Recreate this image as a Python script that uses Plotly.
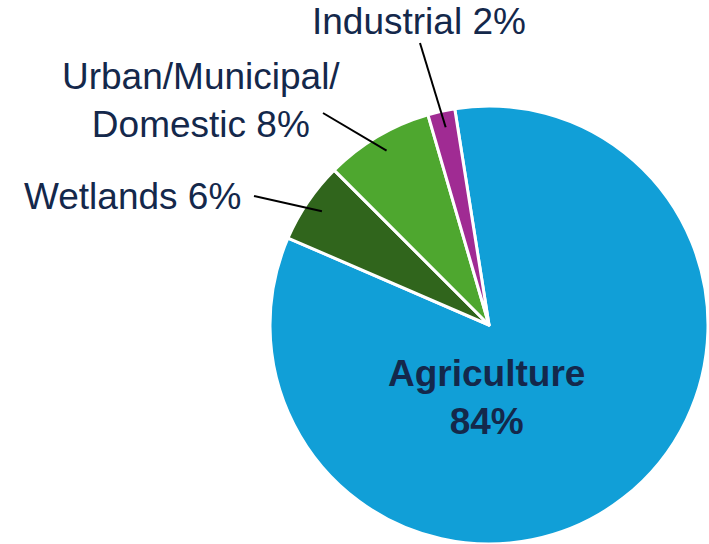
import math
import plotly.graph_objects as go

labels = ["Agriculture", "Wetlands", "Urban/Municipal/<br>Domestic", "Industrial"]
values = [84, 6, 8, 2]
colors = ["#119FD7", "#30651C", "#4EA72F", "#A02B93"]

W, H = 709, 544
CX, CY, R = 490, 325.5, 218.5
ROT = -9  # start angle of the first slice (degrees, clockwise from 12 o'clock)

TEXT = "#14284B"
FONT = "Liberation Sans, Arial, sans-serif"

fig = go.Figure(go.Pie(
    labels=labels,
    values=values,
    marker=dict(colors=colors, line=dict(color="white", width=3)),
    sort=False,
    direction="clockwise",
    rotation=ROT,
    textinfo="none",
    hoverinfo="label+percent",
    showlegend=False,
    domain=dict(x=[269 / W, 1.0], y=[0.0, 1 - 106 / H]),
))

def px(x):
    return x / W

def py(y):
    return 1 - y / H

total = sum(values)
# mid angle of each slice (clockwise from 12 o'clock)
mids = []
acc = ROT
for v in values:
    span = 360 * v / total
    mids.append(acc + span / 2)
    acc += span

def pct(v):
    return f"{round(100 * v / total)}%"

# Big inside label for Agriculture
fig.add_annotation(
    x=px(486), y=py(397), xref="paper", yref="paper",
    text=f"<b>{labels[0]}<br>{pct(values[0])}</b>",
    showarrow=False, font=dict(family=FONT, size=37, color=TEXT),
    align="center", xanchor="center", yanchor="middle",
)

# Outside labels: (index, label centre x, centre y, line start x, line start y)
outside = [
    (1, 132, 197, 254, 196),
    (2, 201, 100, 323, 113),
    (3, 419, 22, 420, 43),
]
for i, lx, ly, sx, sy in outside:
    txt = f"{labels[i]} {pct(values[i])}"
    fig.add_annotation(
        x=px(lx), y=py(ly), xref="paper", yref="paper",
        text=txt, showarrow=False,
        font=dict(family=FONT, size=37, color=TEXT),
        align="center", xanchor="center", yanchor="middle",
    )
    a = math.radians(mids[i])
    ex = CX + 0.93 * R * math.sin(a)
    ey = CY - 0.93 * R * math.cos(a)
    fig.add_shape(
        type="line", xref="paper", yref="paper",
        x0=px(sx), y0=py(sy), x1=px(ex), y1=py(ey),
        line=dict(color="black", width=2),
    )

fig.update_layout(
    width=W, height=H,
    margin=dict(l=0, r=0, t=0, b=0),
    paper_bgcolor="white", plot_bgcolor="white",
)

fig.write_html(
    "out.html",
    config={"displayModeBar": False},
    post_script="document.body.style.margin='0';document.body.style.overflow='hidden';",
)
